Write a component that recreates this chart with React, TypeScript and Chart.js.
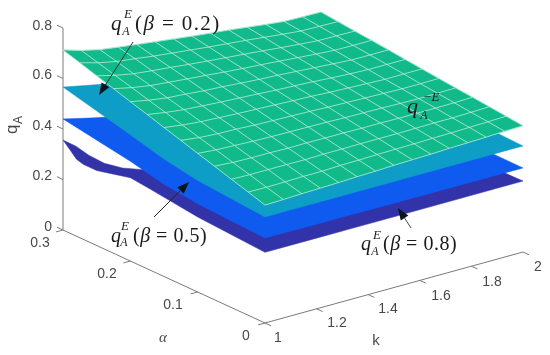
import React, { useEffect, useRef } from "react";
import { Chart, registerables } from "chart.js";

Chart.register(...registerables);

const alphaMesh = [0.3, 0.275, 0.25, 0.225, 0.2, 0.175, 0.15, 0.125, 0.1, 0.075, 0.05, 0.025, 0];
const kMesh = [1, 1.071, 1.143, 1.214, 1.286, 1.357, 1.429, 1.5, 1.571, 1.643, 1.714, 1.786, 1.857, 1.929, 2];
const qBarSurface = [
  [.713, .691, .674, .664, .654, .645, .636, .627, .619, .611, .602, .593, .585, .583, .582],
  [.693, .673, .658, .649, .639, .631, .623, .615, .608, .601, .593, .585, .578, .576, .575],
  [.672, .654, .640, .632, .625, .617, .610, .603, .597, .590, .583, .576, .570, .569, .568],
  [.652, .636, .624, .617, .610, .604, .597, .591, .586, .580, .574, .568, .563, .562, .562],
  [.631, .617, .606, .601, .594, .590, .584, .579, .575, .570, .565, .560, .555, .555, .555],
  [.611, .599, .590, .585, .580, .576, .572, .567, .564, .560, .555, .551, .548, .548, .548],
  [.590, .580, .573, .569, .565, .562, .559, .556, .553, .549, .546, .543, .540, .541, .541],
  [.570, .561, .556, .554, .550, .548, .546, .544, .541, .539, .537, .535, .533, .533, .534],
  [.549, .543, .540, .537, .535, .534, .533, .532, .530, .529, .528, .526, .525, .526, .527],
  [.529, .524, .522, .522, .520, .521, .520, .520, .519, .519, .518, .518, .518, .519, .521],
  [.508, .506, .506, .506, .505, .507, .507, .508, .508, .508, .509, .510, .510, .512, .514],
  [.488, .487, .488, .490, .490, .493, .494, .496, .497, .498, .500, .501, .503, .505, .507],
  [.467, .469, .472, .474, .476, .479, .481, .484, .486, .488, .491, .493, .495, .498, .500],
];

const alphaCoarse = [0.3, 0.2, 0.15, 0.1, 0];
const kCoarse = [1, 1.1, 1.2, 1.3, 1.5, 2];
const beta02Surface = [
  [.566, .545, .525, .510, .490, .460],
  [.500, .490, .480, .470, .460, .440],
  [.465, .460, .455, .450, .445, .435],
  [.442, .440, .438, .436, .435, .430],
  [.420, .420, .420, .420, .420, .420],
];
const beta05Surface = [
  [.440, .415, .392, .375, .360, .342],
  [.395, .385, .372, .362, .352, .338],
  [.365, .362, .358, .352, .345, .336],
  [.350, .348, .345, .342, .340, .335],
  [.337, .336, .335, .335, .334, .333],
];

const alphaDark = [0.3, 0.29, 0.28, 0.27, 0.25, 0.23, 0.2, 0.17, 0.1, 0];
const kDark = [1, 1.05, 1.1, 1.16, 1.23, 1.32, 1.5, 2];
const beta08Surface = [
  [.356, .318, .268, .219, .181, .148, .170, .260],
  [.331, .305, .265, .222, .190, .165, .185, .262],
  [.305, .292, .262, .228, .200, .180, .198, .264],
  [.297, .285, .260, .232, .208, .192, .208, .265],
  [.297, .285, .265, .240, .222, .210, .222, .267],
  [.310, .295, .275, .250, .235, .225, .235, .269],
  [.330, .310, .285, .262, .250, .243, .250, .272],
  [.321, .305, .288, .270, .260, .255, .260, .274],
  [.297, .290, .283, .277, .272, .270, .272, .277],
  [.280, .280, .280, .280, .280, .280, .280, .281],
];

const qTicks = [0, 0.2, 0.4, 0.6, 0.8];
const alphaTicks = [0, 0.1, 0.2, 0.3];
const kTicks = [1, 1.2, 1.4, 1.6, 1.8, 2];

const GREEN = "#10BA8A";
const TEAL = "#0E9DC6";
const BLUE = "#0F5BF0";
const DARK = "#3333A9";
const MESH = "rgba(205,240,225,0.72)";
const AXIS = "#7a7a7a";
const TEXT = "#484848";
const INK = "#1a1a1a";
const SANS = '"Liberation Sans", Arial, sans-serif';
const SERIF = '"Liberation Serif", "Times New Roman", serif';

type P = { x: number; y: number };

// Orthographic view of the (k, alpha, q) box on to the page.
function project(k: number, alpha: number, q: number): P {
  const s = (0.3 - alpha) / 0.3;
  const t = k - 1;
  return {
    x: 63 + 202 * s + 258 * t,
    y: 230 + 93 * s - 71 * t - 252.5 * q,
  };
}

function outline(alphas: number[], ks: number[], z: number[][]): P[] {
  const pts: P[] = [];
  const last = alphas.length - 1;
  const lastK = ks.length - 1;
  ks.forEach((k, j) => pts.push(project(k, alphas[0], z[0][j])));
  alphas.forEach((a, i) => pts.push(project(ks[lastK], a, z[i][lastK])));
  for (let j = lastK; j >= 0; j--) pts.push(project(ks[j], alphas[last], z[last][j]));
  for (let i = last; i >= 0; i--) pts.push(project(ks[0], alphas[i], z[i][0]));
  return pts;
}

function lineSet(data: P[], color: string, width = 1) {
  return { data, borderColor: color, borderWidth: width, showLine: true, pointRadius: 0, fill: false, tension: 0, clip: false };
}

function shapeSet(data: P[], color: string) {
  return { data, borderColor: color, backgroundColor: color, borderWidth: 0.5, showLine: true, pointRadius: 0, fill: "shape", tension: 0, clip: false };
}

function buildDatasets() {
  const paint: any[] = [];
  // axes
  paint.push(lineSet([project(1, 0.3, 0), project(1, 0.3, 0.8)], AXIS));
  paint.push(lineSet([project(1, 0.3, 0), project(1, 0, 0)], AXIS));
  paint.push(lineSet([project(1, 0, 0), project(2, 0, 0)], AXIS));
  qTicks.forEach((q) => paint.push(lineSet([project(1, 0.3, q), project(1, 0.309, q)], AXIS)));
  alphaTicks.forEach((a) => paint.push(lineSet([project(1, a, 0), project(0.973, a, 0)], AXIS)));
  kTicks.forEach((k) => paint.push(lineSet([project(k, 0, 0), project(k, -0.009, 0)], AXIS)));
  // surfaces, far to near
  paint.push(shapeSet(outline(alphaDark, kDark, beta08Surface), DARK));
  paint.push(shapeSet(outline(alphaCoarse, kCoarse, beta05Surface), BLUE));
  paint.push(shapeSet(outline(alphaCoarse, kCoarse, beta02Surface), TEAL));
  paint.push(shapeSet(outline(alphaMesh, kMesh, qBarSurface), GREEN));
  alphaMesh.forEach((a, i) => paint.push(lineSet(kMesh.map((k, j) => project(k, a, qBarSurface[i][j])), MESH)));
  kMesh.forEach((k, j) => paint.push(lineSet(alphaMesh.map((a, i) => project(k, a, qBarSurface[i][j])), MESH)));
  return paint.reverse(); // Chart.js paints the first dataset last
}

function arrow(ctx: CanvasRenderingContext2D, x0: number, y0: number, x1: number, y1: number, color: string) {
  const ang = Math.atan2(y1 - y0, x1 - x0);
  const len = 12;
  const w = 4.5;
  const bx = x1 - len * Math.cos(ang);
  const by = y1 - len * Math.sin(ang);
  ctx.strokeStyle = color;
  ctx.lineWidth = 1;
  ctx.beginPath();
  ctx.moveTo(x0, y0);
  ctx.lineTo(bx, by);
  ctx.stroke();
  ctx.fillStyle = "#0b1418";
  ctx.beginPath();
  ctx.moveTo(x1, y1);
  ctx.lineTo(bx - w * Math.sin(ang), by + w * Math.cos(ang));
  ctx.lineTo(bx + w * Math.sin(ang), by - w * Math.cos(ang));
  ctx.closePath();
  ctx.fill();
}

function put(ctx: CanvasRenderingContext2D, text: string, x: number, y: number, font: string, color: string, align: CanvasTextAlign = "left", base: CanvasTextBaseline = "alphabetic", spacing = "0px") {
  ctx.font = font;
  ctx.fillStyle = color;
  ctx.textAlign = align;
  ctx.textBaseline = base;
  (ctx as any).letterSpacing = spacing;
  ctx.fillText(text, x, y);
  const w = ctx.measureText(text).width;
  (ctx as any).letterSpacing = "0px";
  return w;
}

function betaLabel(ctx: CanvasRenderingContext2D, value: string, qx: number, base: number, ex: number, ey: number, ax: number, ay: number, px: number, size: number, spacing: string) {
  const roman = `${size}px ${SERIF}`;
  const italic = `italic ${size}px ${SERIF}`;
  put(ctx, "q", qx, base, italic, INK);
  put(ctx, "E", ex, ey, `italic 13px ${SERIF}`, INK, "center", "middle");
  put(ctx, "A", ax, ay, `italic 12px ${SERIF}`, INK, "center", "middle");
  let x = px;
  x += put(ctx, "(", x, base, roman, INK, "left", "alphabetic", spacing);
  x += put(ctx, "β", x, base, italic, INK, "left", "alphabetic", spacing);
  put(ctx, ` = ${value})`, x, base, roman, INK, "left", "alphabetic", spacing);
}

const textPlugin = {
  id: "chartText",
  afterDraw(chart: any) {
    const ctx: CanvasRenderingContext2D = chart.ctx;
    ctx.save();
    const tick = `14px ${SANS}`;
    [["0", 227], ["0.2", 176], ["0.4", 126], ["0.6", 75], ["0.8", 26]].forEach(([t, y]) =>
      put(ctx, t as string, 52, y as number, tick, TEXT, "right", "middle"));
    [["0.3", 40, 243], ["0.2", 107, 274], ["0.1", 173, 305], ["0", 246, 336]].forEach(([t, x, y]) =>
      put(ctx, t as string, x as number, y as number, tick, TEXT, "center", "middle"));
    [["1", 278, 338], ["1.2", 337, 323], ["1.4", 388, 309], ["1.6", 441, 296], ["1.8", 492, 282], ["2", 538, 267]].forEach(([t, x, y]) =>
      put(ctx, t as string, x as number, y as number, tick, TEXT, "center", "middle"));
    put(ctx, "k", 376, 341, `15px ${SANS}`, TEXT, "center", "middle");
    put(ctx, "α", 163, 338, `italic 15px ${SERIF}`, TEXT, "center", "middle");
    ctx.save();
    ctx.translate(17, 134);
    ctx.rotate(-Math.PI / 2);
    put(ctx, "q", 0, 0, `17px ${SANS}`, TEXT);
    put(ctx, "A", 10, 5, `12px ${SANS}`, TEXT);
    ctx.restore();

    arrow(ctx, 133, 42, 99, 95, "#1f3b3b");
    arrow(ctx, 154, 217, 189, 182, "#223");
    arrow(ctx, 411, 228, 398, 208, "#445");

    betaLabel(ctx, "0.2", 111, 30, 128, 15, 126, 32, 135, 21, "1.4px");
    betaLabel(ctx, "0.5", 111, 242, 125, 227, 124, 243, 133, 20, "0.5px");
    betaLabel(ctx, "0.8", 361, 250, 377, 236, 375, 252, 383, 20, "0.5px");
    put(ctx, "q", 407, 113, `italic 22px ${SERIF}`, INK);
    put(ctx, "−E", 431, 98, `italic 13px ${SERIF}`, INK, "center", "middle");
    put(ctx, "A", 424, 116, `italic 12px ${SERIF}`, INK, "center", "middle");
    ctx.restore();
  },
};

export default function App() {
  const ref = useRef<HTMLCanvasElement | null>(null);
  useEffect(() => {
    document.body.style.margin = "0";
    const chart = new Chart(ref.current as HTMLCanvasElement, {
      type: "scatter",
      data: { datasets: buildDatasets() },
      options: {
        animation: false,
        responsive: false,
        layout: { padding: 0 },
        plugins: { legend: { display: false }, tooltip: { enabled: false } },
        scales: {
          x: { type: "linear", min: 0, max: 550, display: false },
          y: { type: "linear", min: 0, max: 355, reverse: true, display: false },
        },
      },
      plugins: [textPlugin],
    } as any);
    return () => chart.destroy();
  }, []);
  return <canvas ref={ref} width={550} height={355} style={{ display: "block" }} />;
}
